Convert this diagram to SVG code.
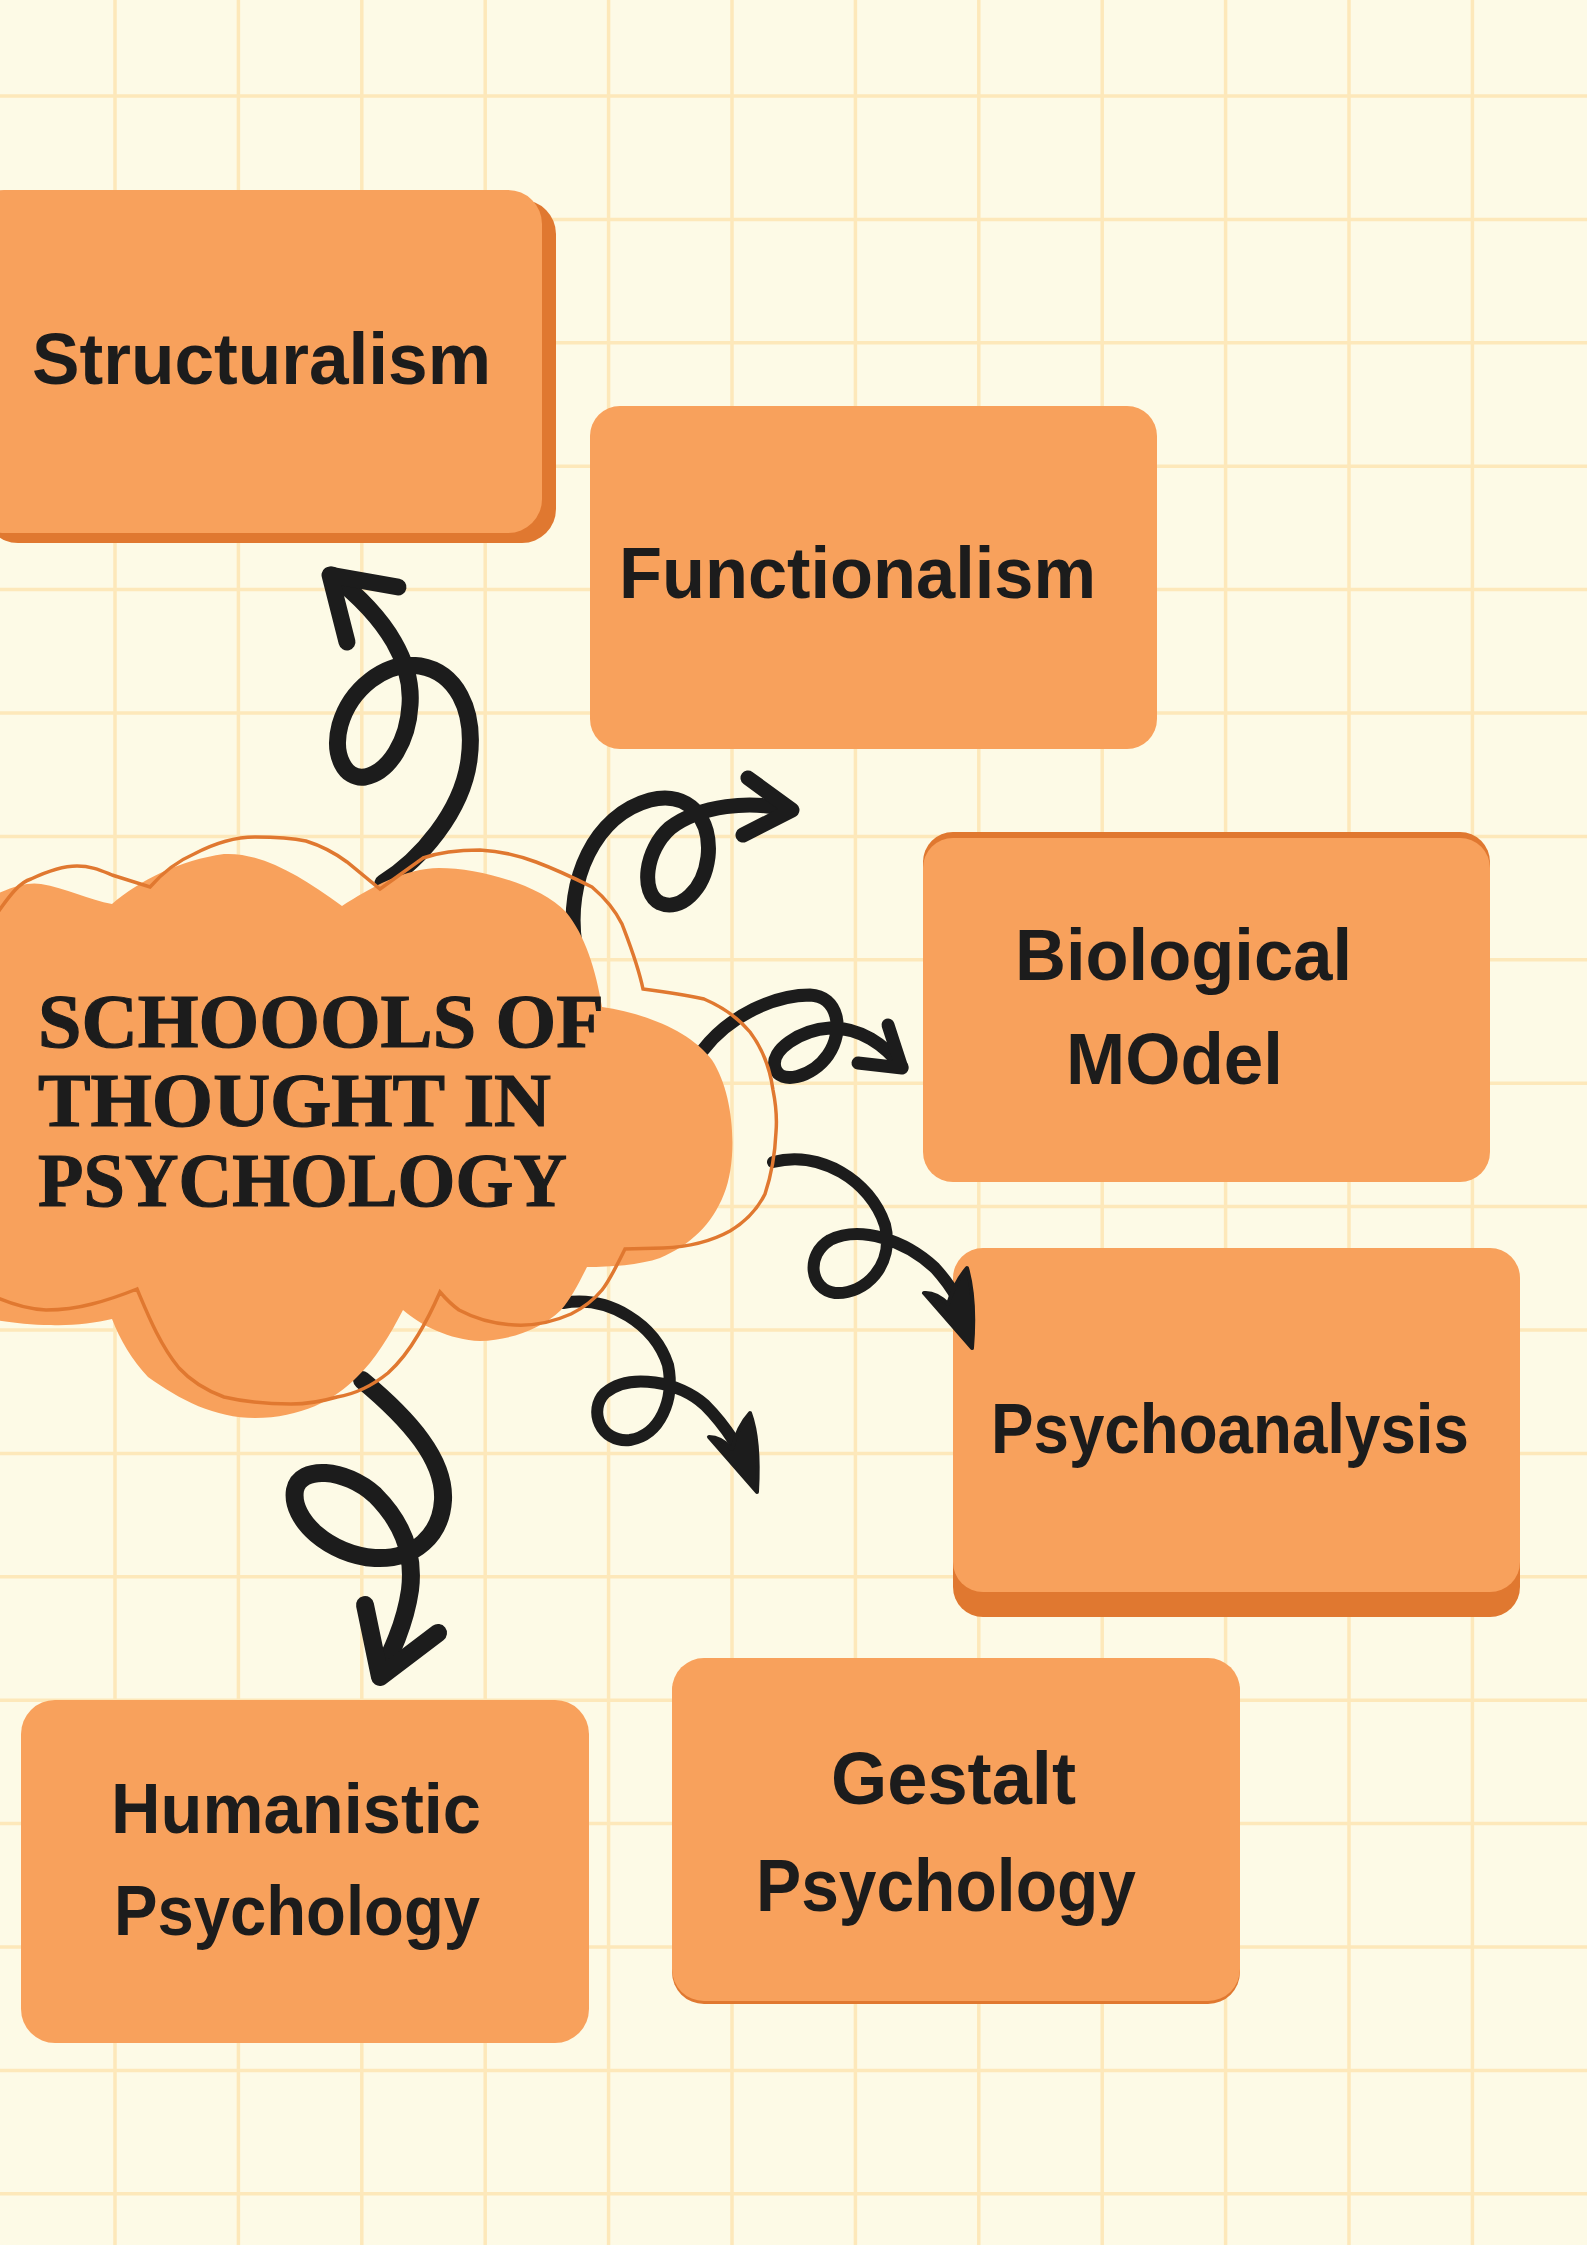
<svg xmlns="http://www.w3.org/2000/svg" width="1587" height="2245" viewBox="0 0 1587 2245">
<style>
.grid{stroke:#FDE8BA;stroke-width:3.5;fill:none}
.box{fill:#F8A15C}
.shadow{fill:#E07830}
.lbl{font-family:"Liberation Sans","Noto Sans",Arial,sans-serif;font-weight:700;fill:#1C1C1C}
.title{font-family:"Liberation Serif","DejaVu Serif",serif;font-weight:700;fill:#1C1C1C;font-size:76px;stroke:#1C1C1C;stroke-width:1.2}
.arw{fill:none;stroke:#1C1C1C;stroke-linecap:round;stroke-linejoin:round}
.head{fill:#1C1C1C;stroke:#1C1C1C;stroke-width:4;stroke-linejoin:round}
</style>
<rect x="0" y="0" width="1587" height="2245" fill="#FDFAE6"/>
<g id="grid">
<path class="grid" d="M115,0V2245M238.4,0V2245M361.8,0V2245M485.2,0V2245M608.6,0V2245M732,0V2245M855.4,0V2245M978.8,0V2245M1102.2,0V2245M1225.6,0V2245M1349,0V2245M1472.4,0V2245
M0,96H1587M0,219.4H1587M0,342.8H1587M0,466.2H1587M0,589.6H1587M0,713H1587M0,836.4H1587M0,959.8H1587M0,1083.2H1587M0,1206.6H1587M0,1330H1587M0,1453.4H1587M0,1576.8H1587M0,1700.2H1587M0,1823.6H1587M0,1947H1587M0,2070.4H1587M0,2193.8H1587"/>
</g>
<g id="structuralism">
<rect class="shadow" x="-16" y="200" width="572" height="343" rx="34"/>
<rect class="box" x="-30" y="190" width="572" height="343" rx="34"/>
<text class="lbl" x="32" y="384" font-size="72" textLength="459" lengthAdjust="spacingAndGlyphs">Structuralism</text>
</g>
<g id="functionalism">
<rect class="box" x="590" y="406" width="567" height="343" rx="30"/>
<text class="lbl" x="619" y="598" font-size="72" textLength="477" lengthAdjust="spacingAndGlyphs">Functionalism</text>
</g>
<g id="biological-model">
<rect class="shadow" x="923" y="832" width="567" height="340" rx="30"/>
<rect class="box" x="923" y="838" width="567" height="344" rx="30"/>
<text class="lbl" x="1015" y="980" font-size="72" textLength="337" lengthAdjust="spacingAndGlyphs">Biological</text>
<text class="lbl" x="1066" y="1084" font-size="72" textLength="217" lengthAdjust="spacingAndGlyphs">MOdel</text>
</g>
<g id="psychoanalysis">
<rect class="shadow" x="953" y="1273" width="567" height="344" rx="30"/>
<rect class="box" x="953" y="1248" width="567" height="344" rx="30"/>
<text class="lbl" x="991" y="1453" font-size="70" textLength="478" lengthAdjust="spacingAndGlyphs">Psychoanalysis</text>
</g>
<g id="humanistic-psychology">
<rect class="box" x="21" y="1700" width="568" height="343" rx="34"/>
<text class="lbl" x="111" y="1833" font-size="70" textLength="370" lengthAdjust="spacingAndGlyphs">Humanistic</text>
<text class="lbl" x="114" y="1935" font-size="70" textLength="366" lengthAdjust="spacingAndGlyphs">Psychology</text>
</g>
<g id="gestalt-psychology">
<rect class="shadow" x="672" y="1661" width="568" height="343" rx="32"/>
<rect class="box" x="672" y="1658" width="568" height="343" rx="32"/>
<text class="lbl" x="831" y="1804" font-size="74" textLength="245" lengthAdjust="spacingAndGlyphs">Gestalt</text>
<text class="lbl" x="756" y="1911" font-size="74" textLength="380" lengthAdjust="spacingAndGlyphs">Psychology</text>
</g>
<g id="connectors">
<path class="arw" stroke-width="17" d="M383,883 C420,860 462,812 469,760 C476,708 455,672 420,666 C385,660 350,690 340,725 C332,755 345,780 365,777 C390,772 408,740 410,705 C413,665 390,620 332,575"/>
<path class="arw" stroke-width="17" d="M398,587 L330,575 L347,642"/>
<path class="arw" stroke-width="15" d="M575,945 C565,880 595,815 650,800 C690,790 712,820 708,857 C704,890 680,912 660,903 C640,893 645,850 670,828 C700,805 750,800 790,810"/>
<path class="arw" stroke-width="15" d="M748,778 L792,810 L743,835"/>
<path class="arw" stroke-width="13" d="M703,1050 C730,1015 775,995 810,995 C838,996 845,1030 828,1055 C812,1078 780,1085 775,1068 C770,1050 800,1030 830,1028 C860,1027 885,1045 902,1067"/>
<path class="arw" stroke-width="13" d="M888,1025 L902,1068 L858,1063"/>
<path class="arw" stroke-width="12" d="M773,1162 C820,1150 870,1180 885,1225 C895,1265 865,1295 835,1293 C810,1290 805,1255 830,1240 C860,1225 905,1240 935,1268 C955,1290 965,1310 968,1330"/>
<path class="head" d="M972,1348 L924,1293 Q936,1292 948,1304 Q955,1282 967,1268 Q976,1300 972,1348 Z"/>
<path class="arw" stroke-width="12" d="M563,1303 C610,1295 655,1325 668,1365 C675,1400 660,1435 630,1440 C600,1443 588,1410 605,1393 C630,1372 680,1382 705,1405 C725,1425 745,1455 752,1478"/>
<path class="head" d="M757,1492 L709,1437 Q721,1437 732,1449 Q738,1426 750,1413 Q760,1440 757,1492 Z"/>
<path class="arw" stroke-width="18" d="M362,1380 C410,1420 445,1460 443,1500 C441,1535 415,1560 375,1558 C330,1555 290,1520 295,1490 C300,1465 345,1468 375,1495 C400,1520 415,1550 410,1590 C405,1625 390,1655 380,1675"/>
<path class="arw" stroke-width="18" d="M365,1605 L380,1677 L438,1633"/>
</g>
<g id="schools-of-thought">
<path fill="#F8A15C" d="M-5,895 C15,885 30,882 41,884 C65,888 90,900 112,904 C140,880 180,860 224,854 C260,852 300,875 342,906 C370,888 405,868 439,868 C480,868 540,885 566,912 C585,935 596,970 602,1007 C640,1012 690,1030 712,1060 C735,1095 738,1160 724,1194 C712,1225 690,1245 660,1258 C640,1265 610,1267 587,1267 C578,1285 570,1300 561,1310 C540,1330 510,1340 480,1341 C450,1340 420,1325 403,1310 C390,1335 375,1360 357,1377 C335,1400 300,1418 255,1418 C215,1418 180,1400 148,1377 C132,1360 120,1340 112,1319 C95,1323 70,1326 51,1325 C30,1325 10,1322 -5,1320 Z"/>
<path fill="none" stroke="#E07830" stroke-width="3.5" stroke-linejoin="miter" d="M-2,912 C10,895 20,882 31,879 C50,870 65,866 77,866 C92,866 102,871 112,875 L150,887 C165,870 180,860 194,854 C215,843 235,837 255,837 C275,837 292,838 306,841 C322,846 335,853 347,862 L380,889 L423,858 C440,852 460,850 480,850 C500,851 520,856 536,862 C560,871 578,880 592,887 C605,898 615,910 622,924 C630,945 638,965 643,989 C665,992 685,995 704,999 C725,1008 740,1020 750,1032 C762,1048 770,1068 773,1090 C776,1105 777,1120 776,1132 C775,1155 771,1176 765,1194 C757,1210 745,1222 730,1231 C710,1242 688,1247 663,1248 L625,1249 C617,1265 610,1280 602,1290 C592,1302 583,1308 571,1314 C553,1322 535,1326 515,1325 C492,1324 474,1318 459,1310 C452,1305 446,1299 440,1292 C433,1308 426,1322 418,1335 C408,1352 398,1364 388,1373 C372,1386 355,1394 337,1397 C320,1402 305,1404 291,1404 C268,1404 245,1402 224,1397 C205,1390 190,1380 179,1368 C160,1345 148,1315 137,1289 C122,1295 108,1300 92,1304 C77,1308 62,1310 46,1310 C28,1309 12,1304 -2,1298"/>
<text class="title" x="38" y="1047" textLength="566" lengthAdjust="spacingAndGlyphs">SCHOOOLS OF</text>
<text class="title" x="38" y="1126" textLength="513" lengthAdjust="spacingAndGlyphs">THOUGHT IN</text>
<text class="title" x="38" y="1206" textLength="529" lengthAdjust="spacingAndGlyphs">PSYCHOLOGY</text>
</g>
</svg>
